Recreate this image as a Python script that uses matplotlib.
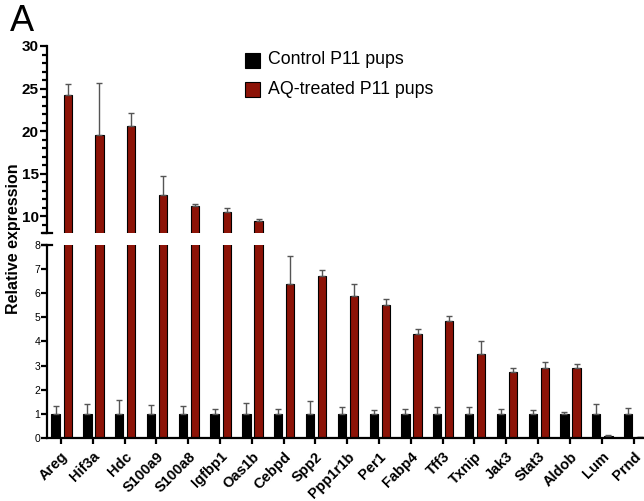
import numpy as np
import matplotlib.pyplot as plt
from matplotlib.ticker import MultipleLocator

plt.rcParams['font.family'] = ['Liberation Sans', 'DejaVu Sans']

genes = ['Areg', 'Hif3a', 'Hdc', 'S100a9', 'S100a8', 'Igfbp1', 'Oas1b', 'Cebpd',
         'Spp2', 'Ppp1r1b', 'Per1', 'Fabp4', 'Tff3', 'Txnip', 'Jak3', 'Stat3',
         'Aldob', 'Lum', 'Prnd']

# control group (normalised to 1) and its SD
ctrl = [1.0] * 19
ctrl_err = [0.35, 0.43, 0.58, 0.39, 0.35, 0.22, 0.44, 0.22, 0.52, 0.31, 0.17,
            0.23, 0.31, 0.31, 0.23, 0.18, 0.09, 0.43, 0.27]

# AQ-treated pups
aq = [24.3, 19.6, 20.55, 12.45, 11.2, 10.55, 9.5, 6.36, 6.72, 5.88, 5.5,
      4.3, 4.83, 3.47, 2.73, 2.92, 2.92, 0.08, 0.04]
aq_err = [1.25, 6.0, 1.55, 2.3, 0.3, 0.42, 0.15, 1.17, 0.22, 0.48, 0.26,
          0.23, 0.23, 0.55, 0.18, 0.25, 0.15, 0.06, 0.03]

red = '#8c1307'
x = np.arange(len(genes))
bw = 0.26

fig = plt.figure(figsize=(6.44, 5.01), dpi=100)
ax_top = fig.add_axes([0.073, 0.5343, 0.927, 0.3739])
ax_bot = fig.add_axes([0.073, 0.1252, 0.927, 0.3864])

for ax in (ax_top, ax_bot):
    ax.bar(x - 0.17, ctrl, bw, color='black', edgecolor='black', linewidth=0.8,
           yerr=[np.zeros(19), ctrl_err], ecolor='#555555',
           error_kw=dict(elinewidth=1.0, capsize=2.5, capthick=1.0), zorder=2)
    ax.bar(x + 0.21, aq, bw, color=red, edgecolor='black', linewidth=0.8,
           yerr=[np.zeros(19), aq_err], ecolor='#555555',
           error_kw=dict(elinewidth=1.0, capsize=2.5, capthick=1.0), zorder=2)
    ax.set_xlim(-0.44, 18.33)
    for s in ('top', 'right'):
        ax.spines[s].set_visible(False)
    ax.spines['left'].set_linewidth(1.6)
    ax.spines['bottom'].set_linewidth(1.6)

# upper part of the broken axis
ax_top.set_ylim(8, 30)
ax_top.spines['bottom'].set_visible(False)
ax_top.set_xticks([])
ax_top.set_yticks([10, 15, 20, 25, 30])
ax_top.yaxis.set_minor_locator(MultipleLocator(1))
ax_top.tick_params(axis='y', which='major', length=5, width=1.6, labelsize=11, pad=1)
ax_top.tick_params(axis='y', which='minor', length=3.5, width=1.6)
for t in ax_top.get_yticklabels():
    t.set_fontweight('bold')

# lower part
ax_bot.set_ylim(0, 8)
ax_bot.set_yticks(range(0, 9))
ax_bot.tick_params(axis='y', length=4, width=1.6, labelsize=7.5, pad=1)
ax_bot.set_xticks(x)
ax_bot.set_xticklabels(genes, rotation=45, ha='right', rotation_mode='anchor',
                       fontsize=10.5, fontweight='bold')
ax_bot.tick_params(axis='x', length=4, width=1.6, pad=4)

# break marks on the y axis
ax_top.plot([-0.009, 0.009], [8, 8], color='black', lw=1.6,
            transform=ax_top.get_yaxis_transform(), clip_on=False)
ax_bot.plot([-0.009, 0.009], [8, 8], color='black', lw=1.6,
            transform=ax_bot.get_yaxis_transform(), clip_on=False)

fig.text(0.021, 0.523, 'Relative expression', rotation=90, ha='center', va='center',
         fontsize=11.5, fontweight='bold')
fig.text(0.015, 0.938, 'A', fontsize=26)

# legend
fig.patches.append(plt.Rectangle((245 / 644, 1 - 68 / 501), 15 / 644, 15 / 501,
                                 transform=fig.transFigure, facecolor='black',
                                 edgecolor='black', lw=0.8))
fig.patches.append(plt.Rectangle((245 / 644, 1 - 97 / 501), 15 / 644, 15 / 501,
                                 transform=fig.transFigure, facecolor=red,
                                 edgecolor='black', lw=0.8))
fig.text(268 / 644, 1 - 60 / 501, 'Control P11 pups', fontsize=12.8, va='center')
fig.text(268 / 644, 1 - 89.5 / 501, 'AQ-treated P11 pups', fontsize=12.8, va='center')

fig.savefig('out.png', dpi=100)
